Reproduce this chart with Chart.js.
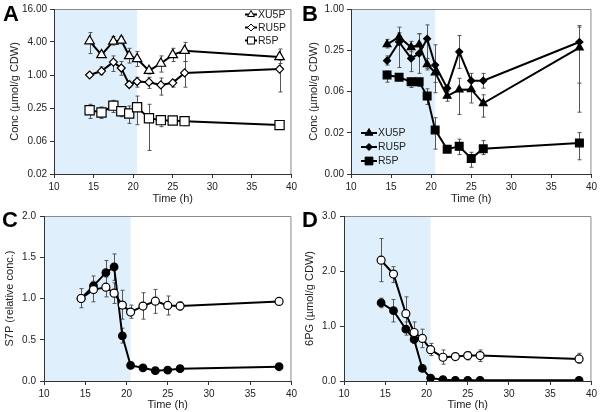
<!DOCTYPE html>
<html>
<head>
<meta charset="utf-8">
<script src="https://cdn.jsdelivr.net/npm/chart.js@4"></script>
<style>
  body { margin: 0; background: #fff; width: 600px; height: 412px; position: relative; overflow: hidden; }
  .panel { position: absolute; width: 300px; height: 206px; }
  .letter { position: absolute; font-family: "Liberation Sans", Arial, sans-serif; font-weight: bold; font-size: 22px; line-height: 22px; color: #000; }
</style>
</head>
<body>
<div class="panel" style="left:0;top:0"><canvas id="chartA" width="300" height="206"></canvas></div>
<div class="panel" style="left:300px;top:0"><canvas id="chartB" width="300" height="206"></canvas></div>
<div class="panel" style="left:0;top:206px"><canvas id="chartC" width="300" height="206"></canvas></div>
<div class="panel" style="left:300px;top:206px"><canvas id="chartD" width="300" height="206"></canvas></div>
<div class="letter" style="left:3px;top:3px">A</div>
<div class="letter" style="left:302px;top:3px">B</div>
<div class="letter" style="left:2px;top:209px">C</div>
<div class="letter" style="left:302px;top:209px">D</div>
<script>
// Время отбора проб (ч)
const times = [14.5, 16, 17.5, 18.5, 19.5, 20.5, 22, 23.5, 25, 26.5, 38.5];
const shadeFrom = 10;
const shadeTo = 20.5;
const xTicks = [10, 15, 20, 25, 30, 35, 40];

// Панель A
const aXu5p   = [4.16, 2.33, 4.1, 4.28, 2.23, 1.97, 1.20, 1.62, 2.33, 2.78, 2.14];
const aXu5pHi = [5.95, null, 5.05, 5.05, 3.07, 2.67, 1.37, 2.23, 3.07, 3.93, 2.98];
const aXu5pLo = [2.46, null, 3.52, 3.72, 1.65, 1.43, 1.04, 1.13, 1.76, 1.76, 1.62];
const aRu5p   = [1.0, 1.18, 1.72, 1.34, 0.67, 0.76, 0.74, 0.66, 0.72, 1.09, 1.28];
const aRu5pHi = [null, 1.41, 2.23, 1.76, 0.77, 0.91, 0.91, 0.88, 0.82, 1.76, 1.86];
const aRu5pLo = [null, 1.01, 1.16, 0.99, 0.60, 0.60, 0.57, 0.43, 0.60, 0.60, 0.49];
const aR5p    = [0.228, 0.207, 0.276, 0.218, 0.198, 0.258, 0.163, 0.150, 0.148, 0.144, 0.122];
const aR5pHi  = [0.292, 0.261, 0.345, 0.261, 0.272, 0.413, 0.292, 0.180, 0.168, 0.168, null];
const aR5pLo  = [0.161, 0.161, 0.207, 0.173, 0.131, 0.124, 0.042, 0.114, 0.136, 0.119, null];
const aYTicks = [0.015625, 0.0625, 0.25, 1, 4, 16];
const aYLabels = ['0.02', '0.06', '0.25', '1.00', '4.00', '16.00'];

// Панель B
const bXu5p   = [0.305, 0.389, 0.276, 0.302, 0.155, 0.118, 0.0537, 0.0663, 0.067, 0.042, 0.273];
const bXu5pHi = [0.36, 0.543, 0.337, 0.435, 0.19, 0.16, 0.0626, 0.0975, 0.0874, 0.056, 0.543];
const bXu5pLo = [0.27, 0.302, 0.237, 0.212, 0.129, 0.085, 0.045, 0.0289, 0.0425, 0.0264, 0.0312];
const bRu5p   = [0.176, 0.33, 0.19, 0.224, 0.368, 0.152, 0.070, 0.237, 0.090, 0.090, 0.33];
const bRu5pHi = [0.207, 0.45, 0.295, 0.435, 0.586, 0.30, 0.077, 0.411, 0.115, 0.115, 0.573];
const bRu5pLo = [0.152, 0.14, 0.122, 0.115, 0.136, 0.06, 0.062, 0.136, 0.07, 0.07, 0.0826];
const bR5p    = [0.109, 0.101, 0.0865, 0.0865, 0.0537, 0.0172, 0.0090, 0.0099, 0.0066, 0.0091, 0.0111];
const bR5pHi  = [0.124, 0.109, 0.0975, 0.0975, 0.0685, 0.0259, 0.0095, 0.0126, 0.0081, 0.012, 0.0157];
const bR5pLo  = [0.0855, 0.094, 0.0715, 0.074, 0.0403, 0.009, 0.0085, 0.0075, 0.0049, 0.0075, 0.0063];
const bYTicks = [0.00390625, 0.015625, 0.0625, 0.25, 1];
const bYLabels = ['0.00', '0.02', '0.06', '0.25', '1.00'];

// Панель C (S7P)
const cOpen     = [1.0, 1.108, 1.137, 1.064, 0.92, 0.835, 0.908, 0.968, 0.916, 0.908, 0.964];
const cOpenHi   = [1.12, 1.273, 1.26, 1.19, 1.10, 0.92, 1.07, 1.11, 1.03, 0.96, null];
const cOpenLo   = [0.888, 0.96, 1.02, 0.94, 0.75, 0.76, 0.75, 0.82, 0.80, 0.86, null];
const cFilled   = [1.0, 1.153, 1.313, 1.382, 0.546, 0.189, 0.16, 0.125, 0.133, 0.149, 0.173];
const cFilledHi = [null, 1.209, 1.46, 1.54, 0.64, null, null, null, null, null, null];
const cFilledLo = [null, 1.10, 1.16, 1.22, 0.46, null, null, null, null, null, null];

// Панель D (6PG)
const dOpen     = [2.196, 1.944, 1.224, 0.882, 0.774, 0.57, 0.432, 0.444, 0.462, 0.462, 0.402];
const dOpenHi   = [2.59, 2.08, 1.53, 1.074, 0.942, 0.684, 0.564, 0.48, 0.534, 0.564, 0.504];
const dOpenLo   = [1.806, 1.79, 0.906, 0.714, 0.606, 0.462, 0.306, 0.41, 0.384, 0.354, 0.324];
const dFilled   = [1.422, 1.278, 0.942, 0.756, 0.228, 0.054, 0.024, 0.012, 0.012, 0.012, 0.012];
const dFilledHi = [1.506, 1.482, 1.074, 0.834, null, null, null, null, null, null, null];
const dFilledLo = [1.332, 1.074, 0.834, 0.684, null, null, null, null, null, null, null];

const FONT = '"Liberation Sans", Arial, sans-serif';
const AXIS_COLOR = '#333';

function toXY(values) {
    return times.map((t, i) => ({ x: t, y: values[i] }));
}

function series(label, values, hi, lo, style, radius, filled, legendRadius) {
    return {
        label: label,
        data: toXY(values),
        errHi: hi,
        errLo: lo,
        legendRadius: legendRadius,
        borderColor: '#000',
        borderWidth: 2,
        pointStyle: style,
        pointRadius: radius,
        pointBorderWidth: 1.2,
        pointBorderColor: '#000',
        pointBackgroundColor: filled ? '#000' : '#fff',
        tension: 0
    };
}

// Голубая зона и рамка
const shadePlugin = {
    id: 'shade',
    beforeDraw(chart) {
        const { ctx, chartArea: a, scales: { x } } = chart;
        const x1 = x.getPixelForValue(shadeFrom);
        const x2 = x.getPixelForValue(shadeTo);
        ctx.save();
        ctx.fillStyle = '#dff0fc';
        ctx.fillRect(x1, a.top, x2 - x1, a.bottom - a.top);
        ctx.strokeStyle = '#8a8a8a';
        ctx.lineWidth = 1;
        ctx.beginPath();
        ctx.moveTo(a.left, a.top + 0.5);
        ctx.lineTo(a.right - 0.5, a.top + 0.5);
        ctx.lineTo(a.right - 0.5, a.bottom);
        ctx.stroke();
        ctx.restore();
    }
};

// Планки погрешностей
const errorBarPlugin = {
    id: 'errorBars',
    beforeDatasetsDraw(chart) {
        const { ctx, scales: { x, y } } = chart;
        ctx.save();
        ctx.strokeStyle = '#555';
        ctx.lineWidth = 1;
        chart.data.datasets.forEach(ds => {
            if (!ds.errHi) return;
            ds.data.forEach((p, i) => {
                const hi = ds.errHi[i];
                const lo = ds.errLo[i];
                if (hi == null || lo == null) return;
                const px = Math.round(x.getPixelForValue(p.x)) + 0.5;
                const yh = y.getPixelForValue(hi);
                const yl = y.getPixelForValue(lo);
                ctx.beginPath();
                ctx.moveTo(px, yh);
                ctx.lineTo(px, yl);
                ctx.moveTo(px - 2, yh);
                ctx.lineTo(px + 2, yh);
                ctx.moveTo(px - 2, yl);
                ctx.lineTo(px + 2, yl);
                ctx.stroke();
            });
        });
        ctx.restore();
    }
};

// Легенда: линия + маркер + подпись
const lineLegendPlugin = {
    id: 'lineLegend',
    afterDraw(chart, args, opts) {
        if (!opts || !opts.items) return;
        const ctx = chart.ctx;
        ctx.save();
        opts.items.forEach((item, i) => {
            const ds = chart.data.datasets[item.index];
            const yy = opts.y + i * opts.gap;
            ctx.strokeStyle = '#000';
            ctx.lineWidth = 2;
            ctx.beginPath();
            ctx.moveTo(opts.x, yy);
            ctx.lineTo(opts.x + opts.len, yy);
            ctx.stroke();
            ctx.fillStyle = ds.pointBackgroundColor;
            ctx.strokeStyle = '#000';
            ctx.lineWidth = 1;
            Chart.helpers.drawPoint(ctx, {
                pointStyle: ds.pointStyle,
                radius: ds.legendRadius,
                rotation: 0,
                borderWidth: 1
            }, opts.x + opts.len / 2, yy);
            ctx.fillStyle = '#222';
            ctx.font = '10.5px ' + FONT;
            ctx.textBaseline = 'middle';
            ctx.fillText(ds.label, opts.x + opts.len + 1, yy + 0.5);
        });
        ctx.restore();
    }
};

function makeChart(id, datasets, yCfg, layout, legend) {
    const yScale = Object.assign({
        position: 'left',
        border: { display: true, color: AXIS_COLOR, width: 1 },
        grid: { display: true, drawOnChartArea: false, drawTicks: true, tickLength: 4, color: AXIS_COLOR },
        title: { display: true, text: yCfg.title, color: '#222', font: { family: FONT, size: 11 }, padding: { top: layout.titlePad, bottom: 0 } },
        afterFit(scale) { scale.width = layout.yWidth; }
    }, yCfg.scale);

    return new Chart(document.getElementById(id), {
        type: 'line',
        data: { datasets: datasets },
        options: {
            responsive: false,
            animation: false,
            events: [],
            layout: { padding: { left: 0, top: layout.top, right: layout.right, bottom: 0 } },
            plugins: {
                legend: { display: false },
                tooltip: { enabled: false },
                lineLegend: legend || {}
            },
            scales: {
                x: {
                    type: 'linear',
                    min: 10,
                    max: 40,
                    border: { display: true, color: AXIS_COLOR, width: 1 },
                    grid: { display: true, drawOnChartArea: false, drawTicks: true, tickLength: 4, color: AXIS_COLOR },
                    afterBuildTicks(scale) { scale.ticks = xTicks.map(v => ({ value: v })); },
                    ticks: { color: '#222', font: { family: FONT, size: 10 }, padding: 3, maxRotation: 0 },
                    title: { display: true, text: 'Time (h)', color: '#222', font: { family: FONT, size: 11 }, padding: { top: 0, bottom: 0 } },
                    afterFit(scale) { scale.height = layout.xHeight; }
                },
                y: yScale
            }
        },
        plugins: [shadePlugin, errorBarPlugin, lineLegendPlugin]
    });
}

function logScale(ticks, labels) {
    return {
        type: 'logarithmic',
        min: ticks[0],
        max: ticks[ticks.length - 1],
        afterBuildTicks(scale) { scale.ticks = ticks.map(v => ({ value: v })); },
        ticks: {
            color: '#222', font: { family: FONT, size: 10 }, padding: 3,
            callback: function(value) {
                const i = ticks.indexOf(value);
                return i >= 0 ? labels[i] : '';
            }
        }
    };
}

function linScale(max, step, digits) {
    return {
        type: 'linear',
        min: 0,
        max: max,
        ticks: {
            stepSize: step, color: '#222', font: { family: FONT, size: 10 }, padding: 4,
            callback: function(value) { return value.toFixed(digits); }
        }
    };
}

makeChart('chartA', [
    series('XU5P', aXu5p, aXu5pHi, aXu5pLo, 'triangle', 5.5, false, 4),
    series('RU5P', aRu5p, aRu5pHi, aRu5pLo, 'rectRot', 4, false, 3.5),
    series('R5P', aR5p, aR5pHi, aR5pLo, 'rect', 6.5, false, 5)
], { title: 'Conc (µmol/g CDW)', scale: logScale(aYTicks, aYLabels) },
   { top: 7, right: 7, yWidth: 54, xHeight: 32, titlePad: 8 },
   { x: 245, y: 14.5, gap: 13, len: 12, items: [{ index: 0 }, { index: 1 }, { index: 2 }] });

makeChart('chartB', [
    series('XU5P', bXu5p, bXu5pHi, bXu5pLo, 'triangle', 4.5, true, 4.5),
    series('RU5P', bRu5p, bRu5pHi, bRu5pLo, 'rectRot', 3.5, true, 3.5),
    series('R5P', bR5p, bR5pHi, bR5pLo, 'rect', 5.5, true, 5.5)
], { title: 'Conc (µmol/g CDW)', scale: logScale(bYTicks, bYLabels) },
   { top: 7, right: 8, yWidth: 51, xHeight: 32, titlePad: 7 },
   { x: 61, y: 133, gap: 14, len: 16, items: [{ index: 0 }, { index: 1 }, { index: 2 }] });

makeChart('chartC', [
    series('open', cOpen, cOpenHi, cOpenLo, 'circle', 4, false),
    series('filled', cFilled, cFilledHi, cFilledLo, 'circle', 3.8, true)
], { title: 'S7P (relative conc.)', scale: linScale(2, 0.5, 1) },
   { top: 9, right: 6, yWidth: 44, xHeight: 31, titlePad: 3 },
   null);

makeChart('chartD', [
    series('open', dOpen, dOpenHi, dOpenLo, 'circle', 4, false),
    series('filled', dFilled, dFilledHi, dFilledLo, 'circle', 3.8, true)
], { title: '6PG (µmol/g CDW)', scale: linScale(3, 1, 1) },
   { top: 9, right: 7, yWidth: 44, xHeight: 31, titlePad: 3 },
   null);
</script>
</body>
</html>
